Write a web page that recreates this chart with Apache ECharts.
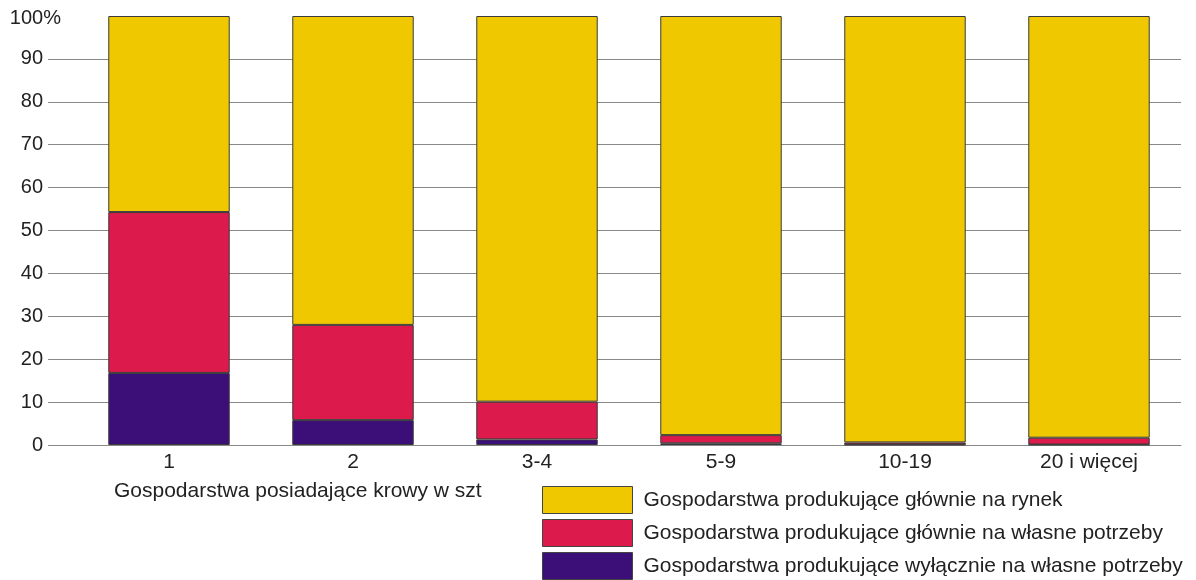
<!DOCTYPE html>
<html>
<head>
<meta charset="utf-8">
<script src="https://cdn.jsdelivr.net/npm/echarts@6/dist/echarts.min.js"></script>
<style>
html, body { margin: 0; padding: 0; background: #fff; }
#main { width: 1196px; height: 580px; }
</style>
</head>
<body>
<div id="main"></div>
<script>
var categories = ['1', '2', '3-4', '5-9', '10-19', '20 i więcej'];
var wylacznieWlasne = [16.8, 5.8, 1.3, 0.4, 0.1, 0.1];
var glownieWlasne = [37.5, 22.2, 8.8, 1.9, 0.5, 1.6];
var glownieRynek = [45.7, 72.0, 89.9, 97.7, 99.4, 98.3];
var tickValues = [0, 10, 20, 30, 40, 50, 60, 70, 80, 90];

var names = [
    'Gospodarstwa produkujące głównie na rynek',
    'Gospodarstwa produkujące głównie na własne potrzeby',
    'Gospodarstwa produkujące wyłącznie na własne potrzeby'
];

var dom = document.getElementById('main');
var myChart = echarts.init(dom);

var font = 'Liberation Sans, Arial, sans-serif';
var txt = '#222';

option = {
    animation: false,
    title: {
        text: 'Gospodarstwa posiadające krowy w szt',
        left: 114,
        top: 481,
        padding: 0,
        textStyle: { fontFamily: font, fontSize: 21, fontWeight: 'normal', color: txt }
    },
    legend: {
        orient: 'vertical',
        left: 542,
        top: 486,
        bottom: 0,
        padding: 0,
        icon: 'rect',
        itemWidth: 90,
        itemHeight: 27,
        itemGap: 5,
        data: names,
        itemStyle: { borderColor: '#444', borderWidth: 1 },
        textStyle: { fontFamily: font, fontSize: 21, color: txt, padding: [0, 0, 0, 6] }
    },
    grid: { left: 77, right: 15, top: 16, bottom: 135, containLabel: false },
    xAxis: {
        type: 'category',
        data: categories,
        axisLine: { show: true, lineStyle: { color: '#888' } },
        axisTick: { show: false },
        axisLabel: { fontFamily: font, fontSize: 21, color: txt, margin: 7 }
    },
    yAxis: {
        type: 'value',
        min: 0,
        max: 100,
        interval: 10,
        axisLine: { show: false },
        axisTick: { show: true, length: 29, customValues: tickValues, lineStyle: { color: '#888' } },
        splitLine: { show: true, lineStyle: { color: '#888', width: 1 } },
        axisLabel: {
            margin: 16,
            formatter: function (v) {
                return v === 100 ? '{n|100}{n|%}' : '{q|' + v + '}';
            },
            rich: {
                n: { fontFamily: font, fontSize: 20, color: txt, padding: [5, 0, 0, 0] },
                q: { fontFamily: font, fontSize: 20, color: txt, padding: [0, 18, 0, 0] }
            }
        }
    },
    series: [
        {
            name: names[2], type: 'bar', stack: 'a', barWidth: '66%',
            itemStyle: { color: '#3C0F78', borderColor: '#3a3a3a', borderWidth: 1 },
            data: wylacznieWlasne
        },
        {
            name: names[1], type: 'bar', stack: 'a',
            itemStyle: { color: '#DC1A4B', borderColor: '#3a3a3a', borderWidth: 1 },
            data: glownieWlasne
        },
        {
            name: names[0], type: 'bar', stack: 'a',
            itemStyle: { color: '#F0C800', borderColor: '#3a3a3a', borderWidth: 1 },
            data: glownieRynek
        }
    ]
};
myChart.setOption(option);
</script>
</body>
</html>
